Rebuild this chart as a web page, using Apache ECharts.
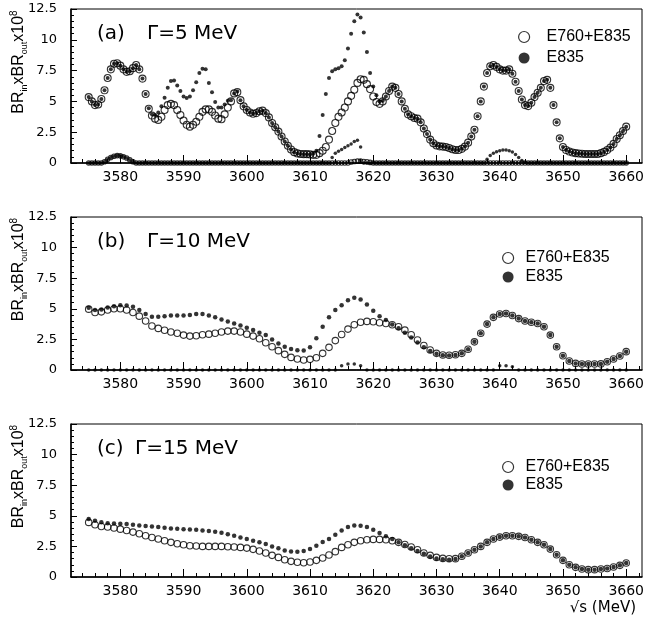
<!DOCTYPE html>
<html>
<head>
<meta charset="utf-8">
<script src="https://cdn.jsdelivr.net/npm/echarts@6.0.0/dist/echarts.min.js"></script>
<style>
  html, body { margin: 0; padding: 0; background: #fff; }
  #chart-container { width: 645px; height: 629px; }
</style>
</head>
<body>
<div id="chart-container"></div>
<script>
var dom = document.getElementById("chart-container");
var myChart = echarts.init(dom, null, { renderer: "canvas" });

// panel (a): 0.5 MeV steps from 3575 to 3660
var openA = [
  5.35, 5.0, 4.7, 4.75, 5.2, 5.9, 6.9, 7.6, 8.05, 8.1,
  7.9, 7.6, 7.4, 7.45, 7.7, 7.95, 7.6, 6.85, 5.6, 4.4,
  3.85, 3.6, 3.5, 3.75, 4.3, 4.7, 4.8, 4.7, 4.3, 3.9,
  3.45, 3.1, 2.95, 3.1, 3.35, 3.75, 4.15, 4.35, 4.35, 4.15,
  3.85, 3.6, 3.55, 3.95, 4.5, 5.0, 5.65, 5.75, 5.1, 4.6,
  4.3, 4.1, 4.0, 4.05, 4.2, 4.25, 4.05, 3.7, 3.25, 2.9,
  2.55, 2.15, 1.75, 1.4, 1.1, 0.88, 0.78, 0.73, 0.72, 0.72,
  0.7, 0.66, 0.66, 0.8, 1.0, 1.3, 1.9, 2.6, 3.25, 3.75,
  4.1, 4.5, 5.0, 5.45, 5.95, 6.5, 6.8, 6.75, 6.4, 6.0,
  5.4, 4.95, 4.8, 5.0, 5.4, 5.85, 6.2, 6.1, 5.6, 5.0,
  4.4, 3.95, 3.8, 3.65, 3.6, 3.3, 2.8, 2.35, 1.9, 1.6,
  1.42, 1.35, 1.33, 1.3, 1.22, 1.12, 1.06, 1.05, 1.15, 1.33,
  1.65, 2.15, 2.7, 3.8, 5.0, 6.2, 7.3, 7.85, 7.95, 7.8,
  7.6, 7.5, 7.5, 7.6, 7.25, 6.6, 5.85, 5.15, 4.7, 4.62,
  4.9, 5.35, 5.7, 6.1, 6.65, 6.75, 6.1, 4.7, 3.3, 2.0,
  1.3, 1.05, 0.93, 0.85, 0.8, 0.77, 0.75, 0.73, 0.73, 0.73,
  0.73, 0.73, 0.8, 0.9, 1.05, 1.25, 1.55, 1.95, 2.25, 2.6,
  2.95
];
var fillA = [
  5.35, 5.0, 4.7, 4.75, 5.2, 5.9, 6.9, 7.6, 8.05, 8.1,
  7.9, 7.6, 7.4, 7.45, 7.7, 7.95, 7.6, 6.85, 5.6, 4.45,
  3.95, 3.9, 4.1, 4.6, 5.3, 6.1, 6.65, 6.7, 6.3, 5.85,
  5.4, 5.28, 5.4, 5.9, 6.55, 7.3, 7.65, 7.6, 6.5, 5.75,
  4.95, 4.5, 4.5, 4.75, 5.05, 5.1, 5.65, 5.8, 5.1, 4.6,
  4.3, 4.1, 4.0, 4.05, 4.2, 4.25, 4.05, 3.7, 3.25, 2.9,
  2.55, 2.15, 1.75, 1.4, 1.1, 0.88, 0.78, 0.73, 0.72, 0.72,
  0.7, 0.75, 1.0, 2.2, 3.9, 5.6, 6.9, 7.45, 7.6, 7.7,
  7.85, 8.35, 9.3, 10.5, 11.5, 12.05, 11.8, 10.6, 9.0, 7.3,
  6.2, 5.5, 5.0, 5.05, 5.4, 5.85, 6.2, 6.1, 5.6, 5.0,
  4.4, 3.95, 3.8, 3.65, 3.6, 3.3, 2.8, 2.35, 1.9, 1.6,
  1.42, 1.35, 1.33, 1.3, 1.22, 1.12, 1.06, 1.05, 1.15, 1.33,
  1.65, 2.15, 2.7, 3.8, 5.0, 6.2, 7.3, 7.85, 7.95, 7.8,
  7.6, 7.5, 7.5, 7.6, 7.25, 6.6, 5.85, 5.15, 4.7, 4.62,
  4.9, 5.35, 5.7, 6.1, 6.65, 6.75, 6.1, 4.7, 3.3, 2.0,
  1.3, 1.05, 0.93, 0.85, 0.8, 0.77, 0.75, 0.73, 0.73, 0.73,
  0.73, 0.73, 0.8, 0.9, 1.05, 1.25, 1.55, 1.95, 2.25, 2.6,
  2.95
];
// second (low) solutions in panel (a)
var lowOpenA = [
  0, 0, 0, 0, 0, 0.1, 0.3, 0.45, 0.55, 0.6,
  0.58, 0.5, 0.4, 0.25, 0.1, 0, 0, 0, 0, 0,
  0, 0, 0, 0, 0, 0, 0, 0, 0, 0,
  0, 0, 0, 0, 0, 0, 0, 0, 0, 0,
  0, 0, 0, 0, 0, 0, 0, 0, 0, 0,
  0, 0, 0, 0, 0, 0, 0, 0, 0, 0,
  0, 0, 0, 0, 0, 0, 0, 0, 0, 0,
  0, 0, 0, 0, 0, 0, 0, 0, 0, 0,
  0, 0, 0, 0.08, 0.12, 0.15, 0.15, 0.12, 0.1, 0.05,
  0, 0, 0, 0, 0, 0, 0, 0, 0, 0,
  0, 0, 0, 0, 0, 0, 0, 0, 0, 0,
  0, 0, 0, 0, 0, 0, 0, 0, 0, 0,
  0, 0, 0, 0, 0, 0, 0, 0, 0, 0,
  0, 0, 0, 0, 0, 0, 0, 0, 0, 0,
  0, 0, 0, 0, 0, 0, 0, 0, 0, 0,
  0, 0, 0, 0, 0, 0, 0, 0, 0, 0,
  0, 0, 0, 0, 0, 0, 0, 0, 0, 0,
  0
];
var lowFillA = [
  0, 0, 0, 0, 0, 0.1, 0.3, 0.45, 0.55, 0.6,
  0.58, 0.5, 0.4, 0.25, 0.1, 0, 0, 0, 0, 0,
  0, 0, 0, 0, 0, 0, 0, 0, 0, 0,
  0, 0, 0, 0, 0, 0, 0, 0, 0, 0,
  0, 0, 0, 0, 0, 0, 0, 0, 0, 0,
  0, 0, 0, 0, 0, 0, 0, 0, 0, 0,
  0, 0, 0, 0, 0, 0, 0, 0, 0, 0,
  0, 0, 0, 0, 0, 0, 0, 0.45, 0.8, 0.95,
  1.1, 1.25, 1.4, 1.55, 1.75, 1.85, 1.3, 0, 0, 0,
  0, 0, 0, 0, 0, 0, 0, 0, 0, 0,
  0, 0, 0, 0, 0, 0, 0, 0, 0, 0,
  0, 0, 0, 0, 0, 0, 0, 0, 0, 0,
  0, 0, 0, 0, 0, 0, 0.3, 0.6, 0.8, 0.92,
  1.0, 1.05, 1.05, 1.0, 0.9, 0.7, 0.45, 0.2, 0.05, 0,
  0, 0, 0, 0, 0, 0, 0, 0, 0, 0,
  0, 0, 0, 0, 0, 0, 0, 0, 0, 0,
  0, 0, 0, 0, 0, 0, 0, 0, 0, 0,
  0
];

// panel (b): 1 MeV steps from 3575 to 3660
var openB = [
  4.97, 4.7, 4.75, 4.9, 5.0, 5.0, 4.9, 4.7, 4.4, 4.0,
  3.6, 3.4, 3.25, 3.1, 3.0, 2.85, 2.77, 2.8, 2.88, 2.93,
  3.0, 3.1, 3.18, 3.18, 3.1, 2.93, 2.77, 2.55, 2.23, 1.9,
  1.58, 1.28, 1.03, 0.9, 0.82, 0.87, 1.0, 1.36, 1.85, 2.4,
  2.9, 3.34, 3.7, 3.9, 3.97, 3.94, 3.86, 3.8, 3.7, 3.53,
  3.26, 2.88, 2.45, 2.0, 1.63, 1.36, 1.22, 1.2, 1.25, 1.36,
  1.7, 2.3, 3.0, 3.75, 4.3, 4.57, 4.62, 4.45, 4.2, 4.0,
  3.9, 3.8, 3.53, 2.85, 1.9, 1.17, 0.73, 0.54, 0.49, 0.49,
  0.49, 0.5, 0.68, 0.9, 1.14, 1.5
];
var fillB = [
  5.08, 4.9, 4.95, 5.1, 5.2, 5.3, 5.27, 5.16, 4.9, 4.57,
  4.35, 4.35, 4.4, 4.45, 4.45, 4.45, 4.5, 4.57, 4.57, 4.45,
  4.3, 4.13, 3.97, 3.8, 3.64, 3.45, 3.26, 3.04, 2.85, 2.5,
  2.17, 1.9, 1.72, 1.62, 1.6, 1.85, 2.6, 3.53, 4.3, 4.9,
  5.3, 5.7, 5.9, 5.76, 5.35, 4.84, 4.4, 4.08, 3.72, 3.42,
  3.05, 2.65, 2.25, 1.85, 1.55, 1.32, 1.2, 1.18, 1.22, 1.36,
  1.7, 2.3, 3.0, 3.75, 4.3, 4.57, 4.62, 4.45, 4.2, 4.0,
  3.9, 3.8, 3.53, 2.85, 1.9, 1.17, 0.73, 0.54, 0.49, 0.49,
  0.49, 0.5, 0.68, 0.9, 1.14, 1.5
];
var lowB = [
  0, 0, 0, 0, 0, 0, 0, 0, 0, 0,
  0, 0, 0, 0, 0, 0, 0, 0, 0, 0,
  0, 0, 0, 0, 0, 0, 0, 0, 0, 0,
  0, 0, 0, 0, 0, 0, 0, 0, 0, 0,
  0.35, 0.49, 0.49, 0.35, 0, 0, 0, 0, 0, 0,
  0, 0, 0, 0, 0, 0, 0, 0, 0, 0,
  0, 0, 0, 0, 0, 0.35, 0.35, 0.27, 0, 0,
  0, 0, 0, 0, 0, 0, 0, 0, 0, 0,
  0, 0, 0, 0, 0, 0
];

// panel (c): 1 MeV steps from 3575 to 3660
var openC = [
  4.46, 4.27, 4.13, 4.08, 4.0, 3.91, 3.8, 3.67, 3.53, 3.37,
  3.23, 3.1, 2.96, 2.83, 2.72, 2.64, 2.55, 2.53, 2.5, 2.5,
  2.5, 2.5, 2.47, 2.45, 2.42, 2.36, 2.26, 2.12, 1.96, 1.77,
  1.6, 1.41, 1.28, 1.2, 1.17, 1.22, 1.36, 1.55, 1.8, 2.07,
  2.42, 2.64, 2.83, 2.96, 3.04, 3.07, 3.07, 3.04, 2.96, 2.83,
  2.66, 2.45, 2.23, 1.96, 1.77, 1.6, 1.52, 1.49, 1.5, 1.7,
  1.96, 2.23, 2.5, 2.83, 3.1, 3.26, 3.37, 3.37, 3.32, 3.23,
  3.04, 2.83, 2.64, 2.28, 1.82, 1.36, 1.0, 0.79, 0.65, 0.6,
  0.6, 0.65, 0.7, 0.82, 0.95, 1.14
];
var fillC = [
  4.73, 4.6, 4.48, 4.4, 4.37, 4.35, 4.32, 4.27, 4.2, 4.16,
  4.13, 4.08, 4.02, 3.97, 3.94, 3.91, 3.89, 3.86, 3.8, 3.75,
  3.7, 3.61, 3.5, 3.37, 3.23, 3.1, 2.96, 2.83, 2.69, 2.5,
  2.34, 2.17, 2.09, 2.07, 2.12, 2.28, 2.55, 2.85, 3.1, 3.45,
  3.8, 4.08, 4.21, 4.18, 4.08, 3.86, 3.59, 3.32, 3.1, 2.83,
  2.6, 2.34, 2.12, 1.9, 1.68, 1.52, 1.44, 1.41, 1.47, 1.7,
  1.96, 2.23, 2.5, 2.83, 3.1, 3.26, 3.37, 3.37, 3.32, 3.23,
  3.04, 2.83, 2.64, 2.28, 1.82, 1.36, 1.0, 0.79, 0.65, 0.6,
  0.6, 0.65, 0.7, 0.82, 0.95, 1.14
];

var xLabels = [3580, 3590, 3600, 3610, 3620, 3630, 3640, 3650, 3660];
var xMinorTicks = [];
for (var t = 3574; t <= 3662; t += 2) xMinorTicks.push(t);

var panelTags = ["(a)", "(b)", "(c)"];
var panelWidths = ["\u0393=5 MeV", "\u0393=10 MeV", "\u0393=15 MeV"];

// energies
var eA = [];
for (var i = 0; i < openA.length; i++) eA.push(3575 + 0.5 * i);
var eBC = [];
for (var j = 0; j < openB.length; j++) eBC.push(3575 + j);

var gridTops = [9, 217, 424];
var gridHeights = [154, 153, 153];
var FONT = "DejaVu Sans";
var SANS = "Liberation Sans";

function pairs(xs, ys) {
  return xs.map(function (x, k) { return [x, ys[k]]; });
}

function openSeries(name, g, xs, ys, size) {
  return {
    name: name, type: "scatter", xAxisIndex: g, yAxisIndex: g,
    data: pairs(xs, ys), symbol: "circle", symbolSize: size, z: 3,
    itemStyle: { color: "rgba(0,0,0,0)", borderColor: "#000", borderWidth: 1.1 },
    silent: true,
  };
}
function fillSeries(name, g, xs, ys, size) {
  return {
    name: name, type: "scatter", xAxisIndex: g, yAxisIndex: g,
    data: pairs(xs, ys), symbol: "circle", symbolSize: size, z: 4,
    itemStyle: { color: "#000" },
    silent: true,
  };
}

var grids = [], xAxes = [], yAxes = [], legends = [], titles = [];
var legendPos = [[513, 24], [497, 245], [497, 454]];
var legendGap = [5, 3, 2];
var legendTextPad = [12, 7, 7];

for (var g = 0; g < 3; g++) {
  var panelTop = gridTops[g];
  grids.push({
    left: 71, top: panelTop, width: 571, height: gridHeights[g],
    outerBoundsMode: "none", containLabel: false,
    show: true, borderColor: "#000", borderWidth: 1, backgroundColor: "transparent",
  });
  xAxes.push({
    type: "value", gridIndex: g, min: 3572.2, max: 3662.5,
    axisLine: { lineStyle: { color: "#000", width: 1.5 } },
    axisTick: { inside: true, length: 8, customValues: xLabels, lineStyle: { color: "#000" } },
    axisLabel: {
      customValues: xLabels, color: "#000", fontFamily: FONT, fontSize: 14, margin: 7,
      formatter: function (v) { return String(v); },
    },
    splitLine: { show: false },
  });
  yAxes.push({
    type: "value", gridIndex: g, min: 0, max: 12.5, interval: 2.5,
    name: "BR{s|in}xBR{s|out}x10{p|8}",
    nameLocation: "middle", nameRotate: 90, nameGap: 42, nameMoveOverlap: false,
    nameTextStyle: {
      fontFamily: SANS, fontSize: 16, lineHeight: 20, color: "#000",
      padding: [0, 0, 0, 48],
      rich: {
        s: { fontFamily: SANS, fontSize: 9, lineHeight: 10, verticalAlign: "bottom", color: "#000" },
        p: { fontFamily: SANS, fontSize: 10, lineHeight: 10, verticalAlign: "top", color: "#000" },
      },
    },
    axisLine: { show: true, lineStyle: { color: "#000", width: 1.5 } },
    axisTick: { show: true, inside: true, length: 6, lineStyle: { color: "#000" } },
    minorTick: { show: true, splitNumber: 5, length: 3, lineStyle: { color: "#000" } },
    axisLabel: { color: "#000", fontFamily: FONT, fontSize: 13, margin: 14 },
    splitLine: { show: false },
  });
  legends.push({
    orient: "vertical", left: legendPos[g][0], top: legendPos[g][1],
    itemWidth: 11, itemHeight: 11, itemGap: legendGap[g], selectedMode: false,
    textStyle: { fontFamily: SANS, fontSize: 16, color: "#000", lineHeight: 16, padding: [0, 0, 0, legendTextPad[g]] },
    data: [
      { name: "E760+E835", icon: "circle", itemStyle: { color: "#fff", borderColor: "#000", borderWidth: 1.2 } },
      { name: "E835", icon: "circle", itemStyle: { color: "#000", borderWidth: 0 } },
    ],
  });
  titles.push({
    text: panelTags[g], left: 97, top: panelTop + 14, padding: 0,
    textStyle: { fontFamily: FONT, fontSize: 20, fontWeight: "normal", color: "#000", lineHeight: 22 },
  });
  titles.push({
    text: panelWidths[g], left: g === 2 ? 135 : 147, top: panelTop + 14, padding: 0,
    textStyle: { fontFamily: FONT, fontSize: 20, fontWeight: "normal", color: "#000", lineHeight: 22 },
  });
}

// minor x ticks, every 2 MeV
for (var m = 0; m < 3; m++) {
  xAxes.push({
    type: "value", gridIndex: m, min: 3572.2, max: 3662.5, position: "bottom",
    axisLine: { show: false },
    axisTick: { inside: true, length: 4, customValues: xMinorTicks, lineStyle: { color: "#000" } },
    axisLabel: { show: false },
    splitLine: { show: false },
  });
}

titles.push({
  text: "\u221As (MeV)", right: 9, top: 599, padding: 0,
  textStyle: { fontFamily: FONT, fontSize: 15, fontWeight: "normal", color: "#000", lineHeight: 18 },
});

var option = {
  backgroundColor: "#fff",
  animation: false,
  title: titles,
  grid: grids,
  xAxis: xAxes,
  yAxis: yAxes,
  legend: legends,
  series: [
    openSeries("low E760+E835 a", 0, eA, lowOpenA, 4.5),
    fillSeries("low E835 a", 0, eA, lowFillA, 3.5),
    openSeries("E760+E835", 0, eA, openA, 7),
    fillSeries("E835", 0, eA, fillA, 4),
    fillSeries("low E835 b", 1, eBC, lowB, 3.5),
    openSeries("E760+E835", 1, eBC, openB, 6.5),
    fillSeries("E835", 1, eBC, fillB, 4.5),
    openSeries("E760+E835", 2, eBC, openC, 6.5),
    fillSeries("E835", 2, eBC, fillC, 4.5),
  ],
};

myChart.setOption(option);
window.addEventListener("resize", myChart.resize);
</script>
</body>
</html>
